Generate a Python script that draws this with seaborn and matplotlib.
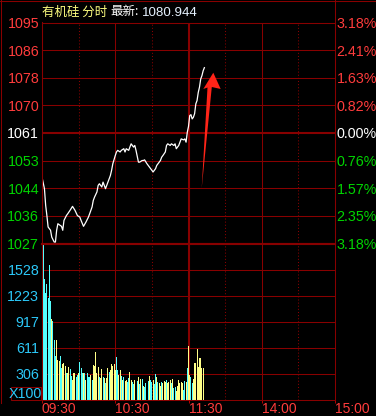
import numpy as np
import pandas as pd
import seaborn as sns
import matplotlib.pyplot as plt
from matplotlib.patches import Polygon, Rectangle
from matplotlib.lines import Line2D

# intraday data, minutes from 09:30 (13:00 continues at 120)
price_minute = [0, 2, 3, 4, 5, 7, 8, 10, 11, 12, 13, 16, 17, 18, 20, 21, 23, 25, 27, 29,
                31, 32, 34, 36, 38, 39, 41, 42, 43, 45, 46, 47, 49, 50, 52, 53, 54, 56, 57, 58,
                60, 61, 62, 64, 65, 67, 68, 69, 71, 72, 73, 75, 76, 77, 79, 80, 82, 83, 84, 86,
                87, 88, 90, 91, 93, 94, 95, 97, 98, 99, 101, 102, 103, 105, 106, 108, 109, 110, 112, 113,
                114, 116, 117, 118, 119, 120, 121, 122, 123, 124, 125, 126, 127, 128, 129, 130, 131, 132, 133]
price = [1047.5, 1044.0, 1038.9, 1035.8, 1032.3, 1031.3, 1029.2, 1027.7, 1027.7, 1031.3,
         1033.3, 1032.5, 1031.3, 1034.3, 1035.8, 1036.3, 1037.4, 1038.6, 1037.4, 1035.8,
         1035.3, 1034.3, 1032.5, 1033.8, 1035.3, 1036.3, 1038.4, 1040.4, 1041.4, 1043.0,
         1045.0, 1045.5, 1044.5, 1046.0, 1044.0, 1045.0, 1046.0, 1048.0, 1049.6, 1051.6,
         1054.1, 1055.2, 1055.7, 1055.2, 1055.7, 1056.2, 1055.2, 1056.2, 1055.7, 1056.7,
         1057.7, 1056.7, 1057.2, 1055.7, 1052.1, 1052.1, 1052.6, 1052.6, 1052.8, 1051.6,
         1051.1, 1050.6, 1049.6, 1049.1, 1050.1, 1051.1, 1051.6, 1052.6, 1053.6, 1054.1,
         1055.2, 1057.2, 1057.7, 1057.2, 1057.7, 1057.2, 1057.7, 1056.2, 1057.2, 1058.2,
         1059.2, 1058.9, 1059.2, 1058.2, 1061.2, 1063.0, 1066.3, 1066.6, 1065.3, 1065.8,
         1066.9, 1069.9, 1070.9, 1073.4, 1075.0, 1077.5, 1078.5, 1080.0, 1080.944]

# volume per minute (x100), one bar per minute from 09:30
volume = [864, 1822, 1421, 1253, 1363, 1190, 1577, 1156, 946, 923, 701, 520, 701, 467, 455, 514,
          370, 420, 432, 397, 319, 311, 382, 358, 280, 234, 319, 311, 272, 292, 319, 440, 378, 319,
          311, 311, 234, 311, 272, 265, 292, 234, 409, 400, 561, 311,
          382, 272, 253, 358, 265, 253, 202, 253, 370, 331, 350, 420, 397, 420, 350, 506, 350, 292,
          350, 276, 234, 272, 226, 234, 214, 253, 331, 234, 214, 187, 234, 202, 226, 272, 187, 241,
          241, 163, 148, 195, 148, 226, 276, 234, 214, 234, 187, 304,
          272, 214, 195, 164, 214, 195, 226, 214, 234, 195, 214, 234, 195, 241, 136, 148, 109, 164,
          234, 195, 214, 202, 117, 226, 214, 370, 631, 292, 272, 195, 241, 428, 436, 592, 389, 487,
          487, 370, 377]
# f = flat, u = up (yellow), d = down (cyan)
vol_dir = ("fddddddduddduuudduuuduudduuuddudddududdduduuuu"
           "uduududuuduuuuudduududuudduudduddudududdududduddu"
           "duuduuuduuududdu" "uuuuudduduudduuuuuuuuu")

prev_close = 1061.0
pct_range = 3.18
vol_top = 1834

price_labels = ['1095', '1086', '1078', '1070', '1061', '1053', '1044', '1036', '1027']
pct_labels = ['3.18%', '2.41%', '1.63%', '0.82%', '0.00%', '0.76%', '1.57%', '2.35%', '3.18%']
vol_labels = ['306', '611', '917', '1223', '1528']
time_ticks = [0, 60, 120, 180, 240]
time_labels = ['09:30', '10:30', '11:30', '14:00', '15:00']

grid = '#880000'
red = '#ff3c3c'
green = '#00d400'
blue = '#2cc8f8'
num_font = ['Liberation Sans Narrow', 'Liberation Sans', 'DejaVu Sans']
cjk_font = ['Noto Sans CJK SC', 'DejaVu Sans']

W, H = 376, 416


def box(x0, y0, x1, y1):
    return [x0 / W, 1 - y1 / H, (x1 - x0) / W, (y1 - y0) / H]


def fpt(x, y):
    return (x / W, 1 - y / H)


fig = plt.figure(figsize=(W / 100, H / 100), dpi=100, facecolor='black')
ax = fig.add_axes(box(42, 22.5, 335, 243.5))
axv = fig.add_axes(box(42, 243.5, 335, 400), sharex=ax)
for a in (ax, axv):
    a.set_facecolor('black')
    for s in a.spines.values():
        s.set_color(grid)
        s.set_linewidth(0.75)
ax.spines['bottom'].set_linewidth(1.5)

lo = prev_close * (1 - pct_range / 100)
hi = prev_close * (1 + pct_range / 100)
levels = np.linspace(hi, lo, 9)

# grid
for i, lv in enumerate(levels[1:-1]):
    ax.axhline(lv, color=grid, lw=1.5 if i == 3 else 0.75, zorder=0)
for k in range(1, 6):
    axv.axhline(vol_top * k / 6, color=grid, lw=0.75, zorder=0)
for a in (ax, axv):
    for m in (60, 180):
        a.axvline(m, color=grid, lw=0.75, zorder=0)
    a.axvline(120, color=grid, lw=1.5, zorder=0)
    for m in (30, 90, 150, 210):
        a.axvline(m, color=grid, lw=0.75, ls=(0, (1, 2)), zorder=0)

# price line
df_p = pd.DataFrame({'minute': price_minute, 'price': price})
sns.lineplot(data=df_p, x='minute', y='price', color='white', lw=0.9, ax=ax, zorder=3)

# volume bars
n = min(len(volume), len(vol_dir))
df_v = pd.DataFrame({'minute': np.arange(n), 'vol': volume[:n],
                     'dir': [{'u': 'up', 'd': 'down', 'f': 'flat'}[c] for c in vol_dir[:n]]})
sns.barplot(data=df_v, x='minute', y='vol', hue='dir', native_scale=True, dodge=False,
            palette={'up': '#ffff88', 'down': '#55ffff', 'flat': '#f0ffff'},
            width=0.8, saturation=1, errorbar=None, legend=False, ax=axv)

ax.set_xlim(0, 240)
ax.set_ylim(lo, hi)
axv.set_ylim(0, vol_top)
for a in (ax, axv):
    a.set_xlabel('')
    a.set_ylabel('')

# left price labels
ax.set_yticks(levels)
ax.set_yticklabels(price_labels)
ax.tick_params(axis='y', length=0, pad=2)
ax.tick_params(axis='x', bottom=False, labelbottom=False)
for i, t in enumerate(ax.get_yticklabels()):
    t.set_color(red if i < 4 else ('white' if i == 4 else green))
    t.set_family(num_font)
    t.set_fontsize(10.3)

# right percent labels
axr = ax.twinx()
axr.set_ylim(lo, hi)
axr.set_yticks(levels)
axr.set_yticklabels(pct_labels)
axr.tick_params(axis='y', length=0, pad=1)
for s in axr.spines.values():
    s.set_color(grid)
    s.set_linewidth(0.75)
axr.spines['bottom'].set_linewidth(1.5)
for i, t in enumerate(axr.get_yticklabels()):
    t.set_color(red if i < 4 else ('white' if i == 4 else green))
    t.set_family(num_font)
    t.set_fontsize(10.3)

# volume labels
axv.set_yticks([vol_top * k / 6 for k in range(1, 6)])
axv.set_yticklabels(vol_labels)
axv.tick_params(axis='y', length=0, pad=2)
for t in axv.get_yticklabels():
    t.set_color(blue)
    t.set_family(num_font)
    t.set_fontsize(10.3)

# time labels
axv.set_xticks(time_ticks)
axv.set_xticklabels(time_labels)
axv.tick_params(axis='x', length=2.0, width=0.75, color='#b00000', pad=-0.8)
for t in axv.get_xticklabels():
    t.set_color(red)
    t.set_ha('left')
    t.set_family(num_font)
    t.set_fontsize(10.0)
axv.set_xlim(0, 240)

# outer frame
fig.add_artist(Line2D([0, 1], [1 - 0.5 / H] * 2, transform=fig.transFigure, color=grid, lw=0.75))
fig.add_artist(Line2D([0.5 / W] * 2, [1, 1 - 403 / H], transform=fig.transFigure, color=grid, lw=0.75))
fig.add_artist(Line2D([335 / W] * 2, [1, 1 - 22.5 / H], transform=fig.transFigure, color=grid, lw=0.75))

# X100 box
fig.add_artist(Rectangle(fpt(11, 400), 29.5 / W, 13.5 / H, transform=fig.transFigure,
                         fc='none', ec=grid, lw=0.75))
fig.text(*fpt(25.7, 393.5), 'X100', color=blue, ha='center', va='center',
         family=num_font, fontsize=10.3)

# title
fig.text(*fpt(42, 12), '有机硅 分时', color='#ffff80', ha='left', va='center',
         family=cjk_font, fontsize=9.0)
fig.text(*fpt(110, 12), '最新:', color='white', ha='left', va='center',
         family=cjk_font, fontsize=9.0)
fig.text(*fpt(141.5, 12.5), '1080.944', color='#e6f2ff', ha='left', va='center',
         family=num_font, fontsize=9.6)

# red arrow
arrow = [fpt(213.3, 72.7), fpt(220.7, 89.0), fpt(211.8, 87.0), fpt(201.7, 188.3),
         fpt(207.5, 87.5), fpt(203.3, 89.0)]
fig.add_artist(Polygon(arrow, closed=True, transform=fig.transFigure,
                       fc='#ff2418', ec='none', zorder=10))

fig.savefig('out.png', dpi=100, facecolor='black')
